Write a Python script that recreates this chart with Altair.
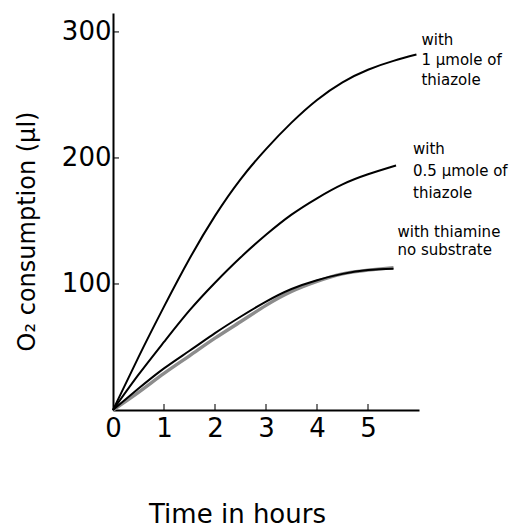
import altair as alt
import pandas as pd

# ---- data ----
thiazole_1_hours = [0, 0.5, 1, 1.5, 2, 2.5, 3, 3.5, 4, 4.5, 5, 5.5, 5.95]
thiazole_1 = [0, 42, 82, 120, 154, 183, 207, 228, 246, 260, 270, 277, 282]

thiazole_05_hours = [0, 0.5, 1, 1.5, 2, 2.5, 3, 3.5, 4, 4.5, 5, 5.55]
thiazole_05 = [0, 28, 54, 79, 101, 121, 139, 155, 168, 179, 187, 194]

thiamine_hours = [0, 0.5, 1, 1.5, 2, 2.5, 3, 3.5, 4, 4.5, 5, 5.5]
thiamine = [0, 17, 33, 47, 61, 74, 86, 96, 103, 108, 111, 112]

no_substrate_hours = [0, 0.5, 1, 1.5, 2, 2.5, 3, 3.5, 4, 4.5, 5, 5.5]
no_substrate = [0, 14, 29, 43, 57, 70, 83, 94, 102, 108, 111, 113]

series_names = ["1 µmole thiazole", "0.5 µmole thiazole", "thiamine", "no substrate"]
label_1 = ["with", "1 µmole of", "thiazole"]
label_05 = ["with", "0.5 µmole of", "thiazole"]
label_low = ["with thiamine", "no substrate"]

x_ticks = [0, 1, 2, 3, 4, 5]
y_ticks = [100, 200, 300]
x_title = "Time in hours"
y_title = "O₂ consumption (µl)"

FONT = "DejaVu Sans"

rows = []
for name, hs, vs in [
    (series_names[0], thiazole_1_hours, thiazole_1),
    (series_names[1], thiazole_05_hours, thiazole_05),
    (series_names[2], thiamine_hours, thiamine),
    (series_names[3], no_substrate_hours, no_substrate),
]:
    for h, v in zip(hs, vs):
        rows.append({"series": name, "hours": h, "o2": v})
df = pd.DataFrame(rows)

x_enc = alt.X(
    "hours:Q",
    scale=alt.Scale(domain=[0, 6], nice=False, zero=True),
    axis=alt.Axis(
        values=x_ticks, title=x_title, grid=False, ticks=False,
        domainColor="black", domainWidth=2,
        labelFont=FONT, labelFontSize=26, labelColor="black", labelPadding=5,
        labelFlush=False,
        titleFont=FONT, titleFontSize=26, titleFontWeight="normal", titleColor="black",
        titleX=124, titleY=112, titleBaseline="alphabetic",
    ),
)
y_enc = alt.Y(
    "o2:Q",
    scale=alt.Scale(domain=[0, 315], nice=False),
    axis=alt.Axis(
        values=y_ticks, title=y_title, grid=False, ticks=False,
        domainColor="black", domainWidth=2,
        labelFont=FONT, labelFontSize=26, labelColor="black", labelPadding=2,
        titleFont=FONT, titleFontSize=24, titleFontWeight="normal", titleColor="black",
        titleAngle=270, titleX=-86, titleY=218, titleBaseline="middle", titleAlign="center",
    ),
)

base = alt.Chart(df)

gray_line = base.transform_filter(alt.datum.series == series_names[3]).mark_line(
    interpolate="natural", color="#8c8c8c", strokeWidth=3.4
).encode(x=x_enc, y=y_enc, detail="series:N")

black_lines = base.transform_filter(alt.datum.series != series_names[3]).mark_line(
    interpolate="natural", color="black", strokeWidth=2
).encode(x=x_enc, y=y_enc, detail="series:N")

xt = pd.DataFrame({"hours": x_ticks[1:], "o2": [0] * (len(x_ticks) - 1)})
yt = pd.DataFrame({"hours": [0] * len(y_ticks), "o2": y_ticks})
x_tick_marks = alt.Chart(xt).mark_tick(
    orient="vertical", color="black", size=6, thickness=1.5, yOffset=-3
).encode(x="hours:Q", y="o2:Q")
y_tick_marks = alt.Chart(yt).mark_tick(
    orient="horizontal", color="black", size=6, thickness=1.5, xOffset=3
).encode(x="hours:Q", y="o2:Q")

def end_label(hs, vs, lines, dx, dy, lh):
    d = pd.DataFrame({"hours": [hs[-1]], "o2": [vs[-1]], "txt": ["\n".join(lines)]})
    return alt.Chart(d).mark_text(
        align="left", baseline="middle", dx=dx, dy=dy, lineBreak="\n",
        font=FONT, fontSize=15, lineHeight=lh, color="black",
    ).encode(x="hours:Q", y="o2:Q", text="txt:N")

lab1 = end_label(thiazole_1_hours, thiazole_1, label_1, 5, -15, 20)
lab2 = end_label(thiazole_05_hours, thiazole_05, label_05, 17, -16, 22)
lab3 = end_label(no_substrate_hours, no_substrate, label_low, 4, -36, 18)

chart = alt.layer(
    gray_line, black_lines, x_tick_marks, y_tick_marks, lab1, lab2, lab3
).properties(
    width=306, height=397,
    padding={"left": 113, "top": 13, "right": 104, "bottom": 119},
    autosize=alt.AutoSizeParams(type="none"),
    background="white",
).configure_view(stroke=None)

chart.save("out.html", embed_options={"renderer": "svg", "actions": False})
